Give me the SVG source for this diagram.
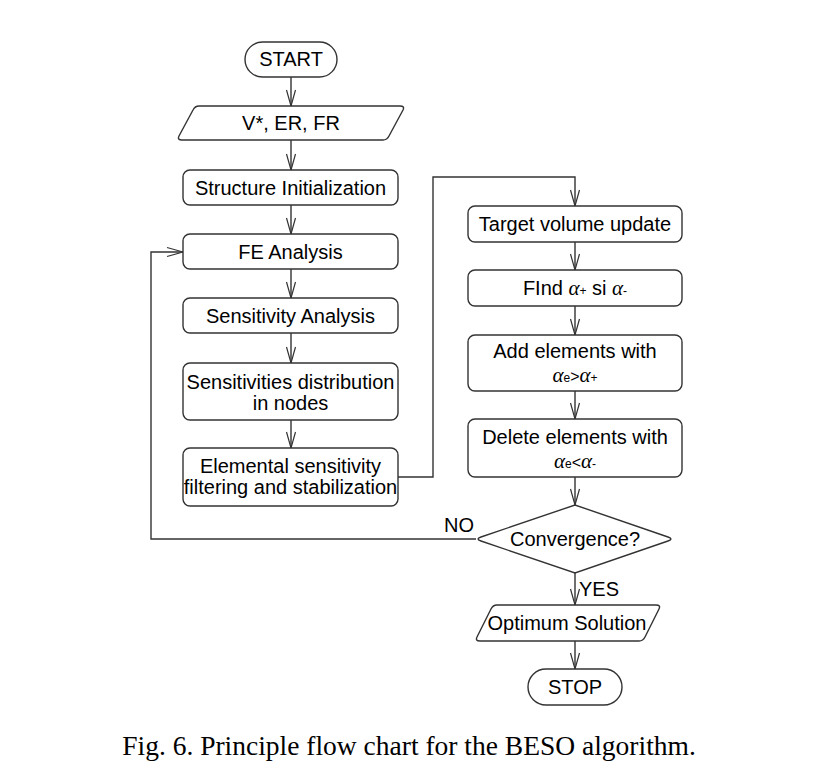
<svg xmlns="http://www.w3.org/2000/svg" width="820" height="780" viewBox="0 0 820 780">
<defs>
<marker id="arr" viewBox="-17 -6 18 12" markerWidth="18" markerHeight="12" refX="0" refY="0" orient="auto" markerUnits="userSpaceOnUse">
<path d="M-16,-4.5 L0,0 L-16,4.5" fill="none" stroke="#333" stroke-width="1.2"/>
</marker>
<style>
.shape{fill:#fff;stroke:#333;stroke-width:1.4}
.t{font-family:"Liberation Sans",Arial,sans-serif;font-size:20px;fill:#000;text-anchor:middle}
.a{font-family:"Liberation Serif","Times New Roman",serif;font-style:italic;font-size:21px}
.s{font-size:12px}
.con{fill:none;stroke:#333;stroke-width:1.4}
.cap{font-family:"Liberation Serif","Times New Roman",serif;font-size:27.5px;fill:#000;text-anchor:middle}
</style>
</defs>
<rect width="820" height="780" fill="#fff"/>
<g id="connectors">
<path class="con" d="M291,77 V106" marker-end="url(#arr)"/>
<path class="con" d="M291,140 V170" marker-end="url(#arr)"/>
<path class="con" d="M291,205 V234" marker-end="url(#arr)"/>
<path class="con" d="M291,269 V298" marker-end="url(#arr)"/>
<path class="con" d="M291,333 V363" marker-end="url(#arr)"/>
<path class="con" d="M291,420 V448" marker-end="url(#arr)"/>
<path class="con" d="M398,477 H433 V177 H575 V206" marker-end="url(#arr)"/>
<path class="con" d="M575,242 V270" marker-end="url(#arr)"/>
<path class="con" d="M575,306 V335" marker-end="url(#arr)"/>
<path class="con" d="M575,391 V419" marker-end="url(#arr)"/>
<path class="con" d="M575,477 V505" marker-end="url(#arr)"/>
<path class="con" d="M575,573 V605" marker-end="url(#arr)"/>
<path class="con" d="M575,641 V669" marker-end="url(#arr)"/>
<path class="con" d="M476,539 H151 V252 H183" marker-end="url(#arr)"/>
<text class="t" x="459" y="532">NO</text>
<text class="t" x="599" y="596">YES</text>
</g>
<g id="start">
<rect class="shape" x="245" y="42" width="92" height="35" rx="17.5"/>
<text class="t" x="291" y="66">START</text>
</g>
<g id="input">
<path class="shape" d="M199,106 H400 Q405,106 403,110 L389,136 Q387,140 383,140 H182 Q177,140 179,136 L193,110 Q195,106 199,106 Z"/>
<text class="t" x="291" y="130">V*, ER, FR</text>
</g>
<g id="init">
<rect class="shape" x="183" y="170" width="215" height="35" rx="7"/>
<text class="t" x="290.5" y="195">Structure Initialization</text>
</g>
<g id="fe">
<rect class="shape" x="183" y="234" width="215" height="35" rx="7"/>
<text class="t" x="290.5" y="259">FE Analysis</text>
</g>
<g id="sens">
<rect class="shape" x="183" y="298" width="215" height="35" rx="7"/>
<text class="t" x="290.5" y="323">Sensitivity Analysis</text>
</g>
<g id="dist">
<rect class="shape" x="183" y="363" width="215" height="57" rx="7"/>
<text class="t" x="290.5" y="389">Sensitivities distribution</text>
<text class="t" x="290.5" y="410">in nodes</text>
</g>
<g id="filter">
<rect class="shape" x="183" y="448" width="215" height="58" rx="7"/>
<text class="t" x="290.5" y="473">Elemental sensitivity</text>
<text class="t" x="290.5" y="494">filtering and stabilization</text>
</g>
<g id="target">
<rect class="shape" x="468" y="206" width="214" height="36" rx="7"/>
<text class="t" x="575" y="231">Target volume update</text>
</g>
<g id="find">
<rect class="shape" x="468" y="270" width="214" height="36" rx="7"/>
<text class="t" x="575" y="295">FInd <tspan class="a">α</tspan><tspan class="s">+</tspan> si <tspan class="a">α</tspan><tspan class="s">-</tspan></text>
</g>
<g id="add">
<rect class="shape" x="468" y="335" width="214" height="56" rx="7"/>
<text class="t" x="575" y="358">Add elements with</text>
<text class="t" x="575" y="382"><tspan class="a">α</tspan><tspan class="s">e</tspan><tspan font-size="16">&gt;</tspan><tspan class="a">α</tspan><tspan class="s">+</tspan></text>
</g>
<g id="delete">
<rect class="shape" x="468" y="419" width="214" height="58" rx="7"/>
<text class="t" x="575" y="444">Delete elements with</text>
<text class="t" x="575" y="468"><tspan class="a">α</tspan><tspan class="s">e</tspan><tspan font-size="16">&lt;</tspan><tspan class="a">α</tspan><tspan class="s">-</tspan></text>
</g>
<g id="conv">
<path class="shape" d="M481,537 L575,505 L668,537 Q674,539 668,541 L575,573 L481,541 Q475,539 481,537 Z"/>
<text class="t" x="575" y="546">Convergence?</text>
</g>
<g id="optimum">
<path class="shape" d="M497,605 H656 Q661,605 659,609 L645,637 Q643,641 639,641 H480 Q475,641 477,637 L491,609 Q493,605 497,605 Z"/>
<text class="t" x="567" y="630">Optimum Solution</text>
</g>
<g id="stop">
<rect class="shape" x="528" y="669" width="94" height="36" rx="18"/>
<text class="t" x="575" y="694">STOP</text>
</g>
<text class="cap" x="409" y="755">Fig. 6. Principle flow chart for the BESO algorithm.</text>
</svg>
